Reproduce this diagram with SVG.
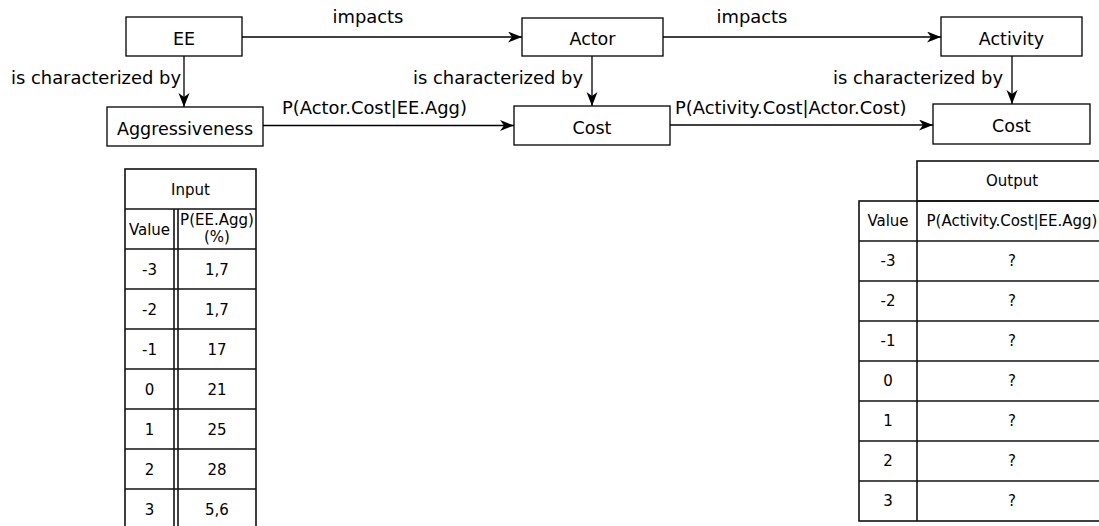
<svg xmlns="http://www.w3.org/2000/svg" width="1099" height="526" viewBox="0 0 1099 526">
<style>
.box{fill:#fff;stroke:#000;stroke-width:1.3}
.lbl{font-family:"DejaVu Sans",sans-serif;font-size:17.5px;fill:#000}
.big{font-size:17.9px}
.c{text-anchor:middle}
.e{text-anchor:end}
.edge{stroke:#000;stroke-width:1.3;fill:none;marker-end:url(#arr)}
.tl{stroke:#111;stroke-width:1.6;fill:none}
.tt{font-family:"DejaVu Sans",sans-serif;font-size:15px;fill:#000;text-anchor:middle}
</style>
<defs>
<marker id="arr" markerUnits="userSpaceOnUse" markerWidth="15" markerHeight="12" refX="14" refY="5.5" orient="auto">
<path d="M0,0 L14,5.5 L0,11 L4,5.5 Z" fill="#000"/>
</marker>
</defs>
<g id="connectors">
<line class="edge" x1="242" y1="37" x2="522" y2="37"/>
<line class="edge" x1="663" y1="37" x2="941" y2="37"/>
<line class="edge" x1="184" y1="56" x2="184" y2="107"/>
<line class="edge" x1="592" y1="56" x2="592" y2="106"/>
<line class="edge" x1="1012" y1="56" x2="1012" y2="104"/>
<line class="edge" x1="263" y1="125.5" x2="514" y2="125.5"/>
<line class="edge" x1="670" y1="125" x2="933" y2="125"/>
<text class="lbl big c" x="368" y="23">impacts</text>
<text class="lbl big c" x="752" y="23">impacts</text>
<text class="lbl big e" x="181" y="84">is characterized by</text>
<text class="lbl big e" x="583" y="84">is characterized by</text>
<text class="lbl big e" x="1003" y="84">is characterized by</text>
<text class="lbl big" x="282" y="114">P(Actor.Cost|EE.Agg)</text>
<text class="lbl big" x="675" y="114">P(Activity.Cost|Actor.Cost)</text>
</g>
<g id="ee"><rect class="box" x="126" y="17" width="116" height="39"/><text class="lbl c" x="184" y="44.5">EE</text></g>
<g id="aggressiveness"><rect class="box" x="107" y="107" width="156" height="39"/><text class="lbl c" x="185" y="134.5">Aggressiveness</text></g>
<g id="actor"><rect class="box" x="522" y="18" width="141" height="38"/><text class="lbl c" x="592.5" y="45">Actor</text></g>
<g id="actor-cost"><rect class="box" x="514" y="106" width="156" height="39"/><text class="lbl c" x="592" y="133.5">Cost</text></g>
<g id="activity"><rect class="box" x="941" y="17" width="141" height="39"/><text class="lbl c" x="1011.5" y="44.5">Activity</text></g>
<g id="activity-cost"><rect class="box" x="933" y="104" width="157" height="40"/><text class="lbl c" x="1011.5" y="132">Cost</text></g>
<g id="input-table">
<rect class="tl" x="125" y="169" width="131" height="370"/>
<line class="tl" x1="125" y1="209" x2="256" y2="209"/>
<line class="tl" x1="125" y1="249" x2="256" y2="249"/>
<line class="tl" x1="125" y1="289" x2="256" y2="289"/>
<line class="tl" x1="125" y1="329" x2="256" y2="329"/>
<line class="tl" x1="125" y1="369" x2="256" y2="369"/>
<line class="tl" x1="125" y1="409" x2="256" y2="409"/>
<line class="tl" x1="125" y1="449" x2="256" y2="449"/>
<line class="tl" x1="125" y1="489" x2="256" y2="489"/>
<line class="tl" x1="174" y1="209" x2="174" y2="540"/>
<line class="tl" x1="178" y1="209" x2="178" y2="540"/>
<text class="tt" x="190.5" y="195">Input</text>
<text class="tt" x="149.5" y="235">Value</text>
<text class="tt" x="217" y="225">P(EE.Agg)</text>
<text class="tt" x="217" y="242">(%)</text>
<text class="tt" x="149.5" y="275">-3</text><text class="tt" x="217" y="275">1,7</text>
<text class="tt" x="149.5" y="315">-2</text><text class="tt" x="217" y="315">1,7</text>
<text class="tt" x="149.5" y="355">-1</text><text class="tt" x="217" y="355">17</text>
<text class="tt" x="149.5" y="395">0</text><text class="tt" x="217" y="395">21</text>
<text class="tt" x="149.5" y="435">1</text><text class="tt" x="217" y="435">25</text>
<text class="tt" x="149.5" y="475">2</text><text class="tt" x="217" y="475">28</text>
<text class="tt" x="149.5" y="515">3</text><text class="tt" x="217" y="515">5,6</text>
</g>
<g id="output-table">
<rect class="tl" x="917" y="161" width="190" height="40"/>
<rect class="tl" x="859" y="201" width="248" height="320"/>
<line class="tl" x1="917" y1="201" x2="917" y2="521"/>
<line class="tl" x1="859" y1="241" x2="1107" y2="241"/>
<line class="tl" x1="859" y1="281" x2="1107" y2="281"/>
<line class="tl" x1="859" y1="321" x2="1107" y2="321"/>
<line class="tl" x1="859" y1="361" x2="1107" y2="361"/>
<line class="tl" x1="859" y1="401" x2="1107" y2="401"/>
<line class="tl" x1="859" y1="441" x2="1107" y2="441"/>
<line class="tl" x1="859" y1="481" x2="1107" y2="481"/>
<text class="tt" x="1012" y="186">Output</text>
<text class="tt" x="888" y="226">Value</text>
<text class="tt" x="1012" y="226">P(Activity.Cost|EE.Agg)</text>
<text class="tt" x="888" y="266">-3</text><text class="tt" x="1012" y="266">?</text>
<text class="tt" x="888" y="306">-2</text><text class="tt" x="1012" y="306">?</text>
<text class="tt" x="888" y="346">-1</text><text class="tt" x="1012" y="346">?</text>
<text class="tt" x="888" y="386">0</text><text class="tt" x="1012" y="386">?</text>
<text class="tt" x="888" y="426">1</text><text class="tt" x="1012" y="426">?</text>
<text class="tt" x="888" y="466">2</text><text class="tt" x="1012" y="466">?</text>
<text class="tt" x="888" y="506">3</text><text class="tt" x="1012" y="506">?</text>
</g>
</svg>
